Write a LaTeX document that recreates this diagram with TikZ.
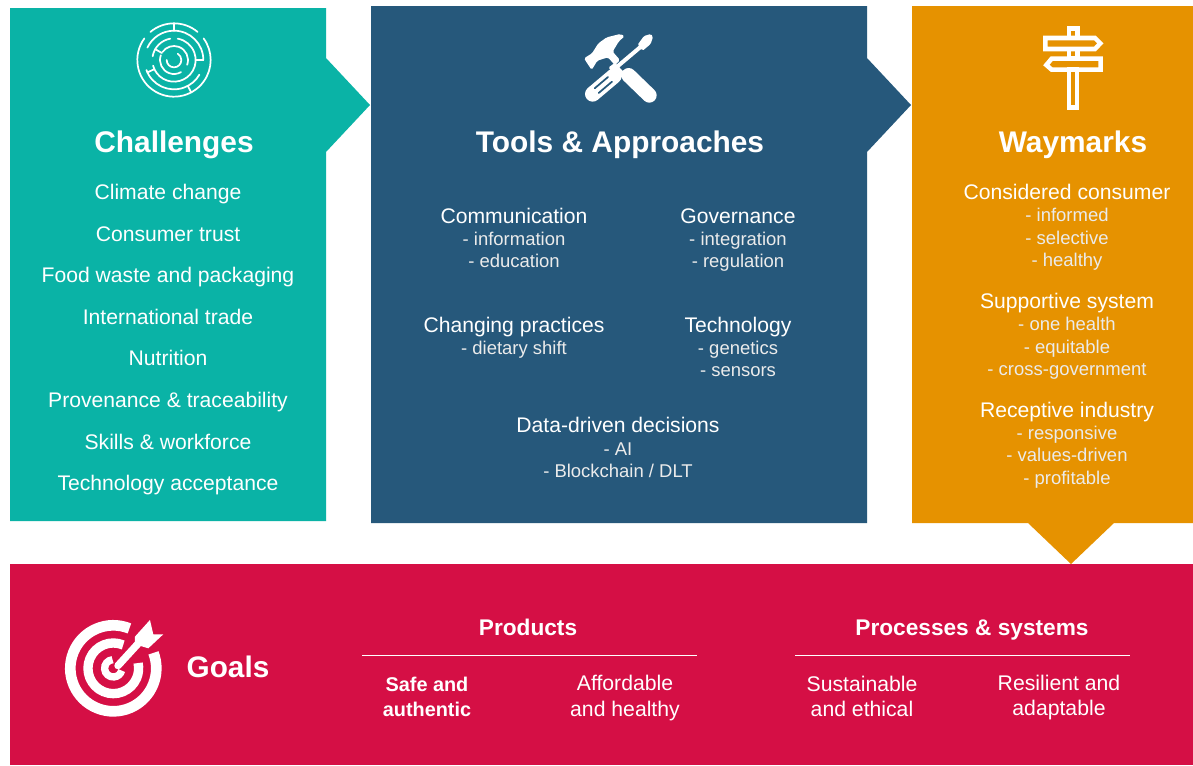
\documentclass[tikz,border=0pt]{standalone}
\usepackage{fontspec}
\setmainfont{Liberation Sans}
\definecolor{cteal}{HTML}{0AB3A6}
\definecolor{cblue}{HTML}{26587B}
\definecolor{corange}{HTML}{E69200}
\definecolor{cred}{HTML}{D50F45}
\tikzset{
  panel/.style={fill=#1,draw=none},
  title/.style={text=white,anchor=base,inner sep=0pt,font=\fontsize{22.4}{26}\selectfont\bfseries},
  head/.style={text=white,anchor=base,inner sep=0pt,font=\fontsize{15.85}{18}\selectfont},
  sub/.style={text=white!92!black,anchor=base,inner sep=0pt,font=\fontsize{13.85}{16}\selectfont},
  goalhead/.style={text=white,anchor=base,inner sep=0pt,font=\fontsize{17}{20}\selectfont\bfseries},
  goalb/.style={text=white,anchor=base,inner sep=0pt,font=\fontsize{14.9}{18}\selectfont\bfseries},
  goalr/.style={text=white,anchor=base,inner sep=0pt,font=\fontsize{15.9}{18}\selectfont},
  iconline/.style={draw=white,line width=1.3pt,line cap=round},
  signline/.style={draw=white,line width=3.4pt,line join=miter}
}
\begin{document}
\begin{tikzpicture}[x=0.75pt,y=-0.75pt]
\useasboundingbox (0,0) rectangle (1193,765);
\fill[white] (0,0) rectangle (1193,765);
% panels
\path[panel=cteal] (10,8)--(326,8)--(326,58)--(370,105)--(326,152)--(326,521)--(10,521)--cycle;
\path[panel=cblue] (371,6)--(867,6)--(867,58)--(911,105)--(867,152)--(867,523)--(371,523)--cycle;
\path[panel=corange] (912,6)--(1193,6)--(1193,523)--(1114,523)--(1071,564)--(1028,523)--(912,523)--cycle;
\path[panel=cred] (10,564) rectangle (1193,765);
% maze icon
\begin{scope}[shift={(174,60)},x=0.25pt,y=0.25pt]
  \foreach \r/\a/\b in {110/50/130,110/144/396,88/0/155,88/200/330,65/80/-30,65/100/170,65/195/330,42/-20/145,42/160/300,22/-180/60}
    \draw[iconline] (\a:\r) arc[start angle=\a,end angle=\b,radius=\r];
  \foreach \a/\p/\q in {90/88/110,0/65/88,-62/88/110,205/65/88,150/42/65}
    \draw[iconline] (\a:\p) -- (\a:\q);
\end{scope}
% tools icon
\begin{scope}[shift={(570,20)},x=0.25pt,y=-0.25pt]
  \fill[white,rounded corners=1.2pt] (42,115)--(66,100)--(85,70)--(110,52)--(150,42)--(164,48)--(146,65)--(128,95)--(150,120)--(135,136)--(114,112)--(82,122)--(65,150)--cycle;
  \draw[white,line width=11pt,line cap=round] (176,166)--(238,226);
  \draw[white,line width=3pt] (132,148)--(222,72);
  \fill[white,rounded corners=1pt] (203,74)--(222,48)--(242,42)--(249,50)--(242,72)--(218,92)--cycle;
  \fill[white,rounded corners=1pt] (115,143)--(135,128)--(165,160)--(148,178)--cycle;
  \draw[white,line width=11.5pt,line cap=round] (132,168)--(68,222);
  \draw[cblue,line width=1.3pt,line cap=round] (114,171)--(74,205);
  \draw[cblue,line width=1.3pt,line cap=round] (126,185)--(86,219);
\end{scope}
% signpost icon
\begin{scope}[shift={(1025,15)},x=0.25pt,y=-0.25pt]
  \draw[signline] (61,69)--(210,69)--(226,85)--(210,102)--(61,102)--cycle;
  \draw[signline] (227,131)--(80,131)--(64,150)--(80,164)--(227,164)--cycle;
  \draw[signline] (132,41) rectangle (157,69);
  \draw[signline] (132,102) rectangle (157,131);
  \draw[signline] (132,164) rectangle (156,277);
\end{scope}
% target icon
\begin{scope}[shift={(113.3,668.3)},x=0.25pt,y=0.25pt]
  \foreach \r/\w/\a/\b in {129/8/68/381,76/7/67/372,26/5.5/95/345}
    \draw[white,line width=\w pt] (\a:\r) arc[start angle=\a,end angle=\b,radius=\r];
  \draw[cred,line width=7.5pt] (14,8)--(78,78);
  \draw[white,line width=5.5pt,line cap=round] (14,8)--(78,78);
  \fill[white] (65,95)--(110,145)--(120,102)--(150,102)--(105,60)--(65,72)--cycle;
\end{scope}
% titles
\node[title] (tchallenges) at (174,152) {Challenges};
\node[title] (ttools) at (620,152) {Tools \& Approaches};
\node[title] (tway) at (1073,152) {Waymarks};
% challenges
\foreach \y/\t [count=\i] in {199/Climate change,241/Consumer trust,282/Food waste and packaging,324/International trade,365/Nutrition,407/Provenance \& traceability,449/Skills \& workforce,490/Technology acceptance}
  \node[head] (ch\i) at (168,\y) {\t};
% tools
\foreach \x/\y/\t [count=\i] in {514/223/Communication,738/223/Governance,514/332/Changing practices,738/332/Technology,618/432/Data-driven decisions}
  \node[head] (th\i) at (\x,\y) {\t};
\foreach \x/\y/\t [count=\i] in {514/245/- information,514/267/- education,738/245/- integration,738/267/- regulation,514/354/- dietary shift,738/354/- genetics,738/376/- sensors,618/455/- AI,618/477/{- Blockchain / DLT}}
  \node[sub] (ts\i) at (\x,\y) {\t};
% waymarks
\foreach \y/\t [count=\i] in {199/Considered consumer,308/Supportive system,417/Receptive industry}
  \node[head] (wh\i) at (1067,\y) {\t};
\foreach \y/\t [count=\i] in {221/- informed,244/- selective,266/- healthy,330/- one health,353/- equitable,375/- cross-government,439/- responsive,461/- values-driven,484/- profitable}
  \node[sub] (ws\i) at (1067,\y) {\t};
% goals
\node[text=white,anchor=base,inner sep=0pt,font=\fontsize{22.3}{26}\selectfont\bfseries] (goals) at (228,677) {Goals};
\node[goalhead] (products) at (528,635) {Products};
\node[goalhead] (procs) at (972,635) {Processes \& systems};
\coordinate (ra) at (362,655); \coordinate (rb) at (697,655);
\coordinate (rc) at (795,655); \coordinate (rd) at (1130,655);
\draw[white,line width=0.75pt] (ra)--(rb);
\draw[white,line width=0.75pt] (rc)--(rd);
\node[goalb] (g1) at (427,691) {Safe and};
\node[goalb] (g2) at (427,716) {authentic};
\node[goalr] (g3) at (625,690) {Affordable};
\node[goalr] (g4) at (625,716) {and healthy};
\node[goalr] (g5) at (862,691) {Sustainable};
\node[goalr] (g6) at (862,716) {and ethical};
\node[goalr] (g7) at (1059,690) {Resilient and};
\node[goalr] (g8) at (1059,715) {adaptable};
\end{tikzpicture}
\end{document}
